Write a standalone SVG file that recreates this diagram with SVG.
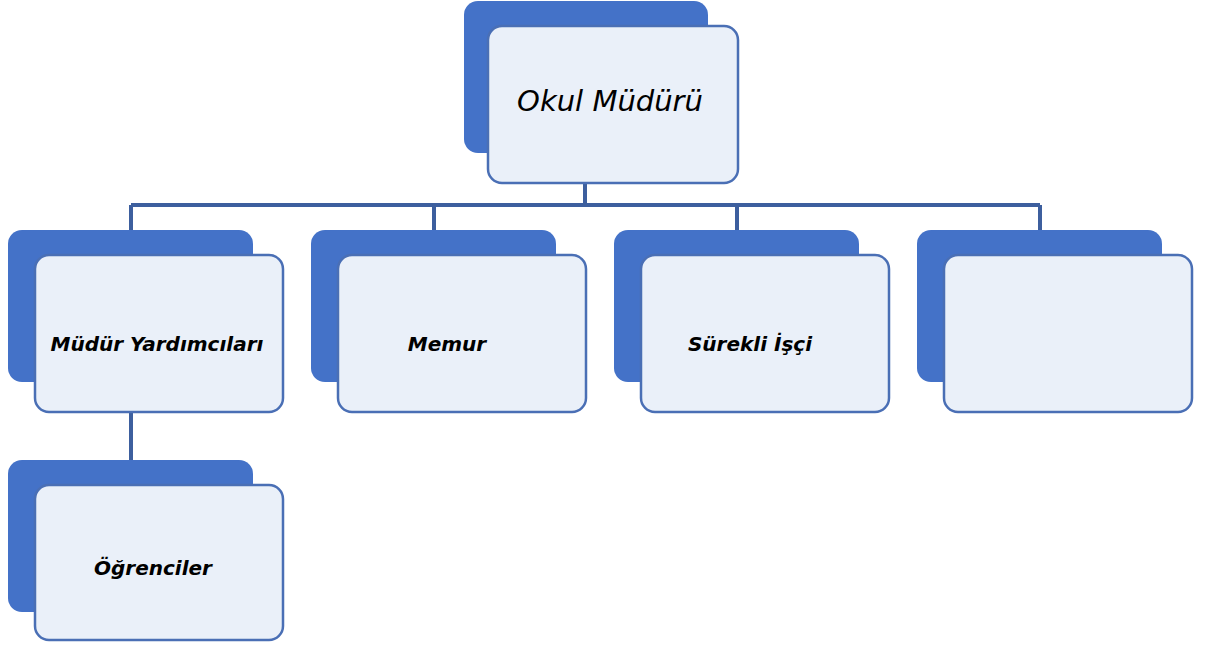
<svg xmlns="http://www.w3.org/2000/svg" width="1205" height="650" viewBox="0 0 1205 650">
<style>
.back{fill:#4472c8;}
.front{fill:#eaf0f9;stroke:#4a6fb5;stroke-width:2.5;}
.conn{fill:none;stroke:#3d5f9e;stroke-width:4;}
.lbl{font-family:"DejaVu Sans",Verdana,sans-serif;font-style:italic;font-weight:bold;font-size:20px;fill:#000;text-anchor:middle;}
.top{font-weight:normal;font-size:29px;}
</style>
<rect width="1205" height="650" fill="#ffffff"/>
<g id="connectors">
<path class="conn" d="M585,183 V205 M131,205 H1040 M131,205 V230 M434,205 V230 M737,205 V230 M1040,205 V230 M131,412 V460"/>
</g>
<g id="okul-muduru">
<rect class="back" x="464" y="1" width="244" height="152" rx="14"/>
<rect class="front" x="488" y="26" width="250" height="157" rx="14"/>
<text class="lbl top" x="610" y="111">Okul Müdürü</text>
</g>
<g id="mudur-yardimcilari">
<rect class="back" x="8" y="230" width="245" height="152" rx="14"/>
<rect class="front" x="35" y="255" width="248" height="157" rx="14"/>
<text class="lbl" x="157" y="351">Müdür Yardımcıları</text>
</g>
<g id="memur">
<rect class="back" x="311" y="230" width="245" height="152" rx="14"/>
<rect class="front" x="338" y="255" width="248" height="157" rx="14"/>
<text class="lbl" x="447" y="351">Memur</text>
</g>
<g id="surekli-isci">
<rect class="back" x="614" y="230" width="245" height="152" rx="14"/>
<rect class="front" x="641" y="255" width="248" height="157" rx="14"/>
<text class="lbl" x="750" y="351">Sürekli İşçi</text>
</g>
<g id="bos">
<rect class="back" x="917" y="230" width="245" height="152" rx="14"/>
<rect class="front" x="944" y="255" width="248" height="157" rx="14"/>
</g>
<g id="ogrenciler">
<rect class="back" x="8" y="460" width="245" height="152" rx="14"/>
<rect class="front" x="35" y="485" width="248" height="155" rx="14"/>
<text class="lbl" x="153" y="575">Öğrenciler</text>
</g>
</svg>
